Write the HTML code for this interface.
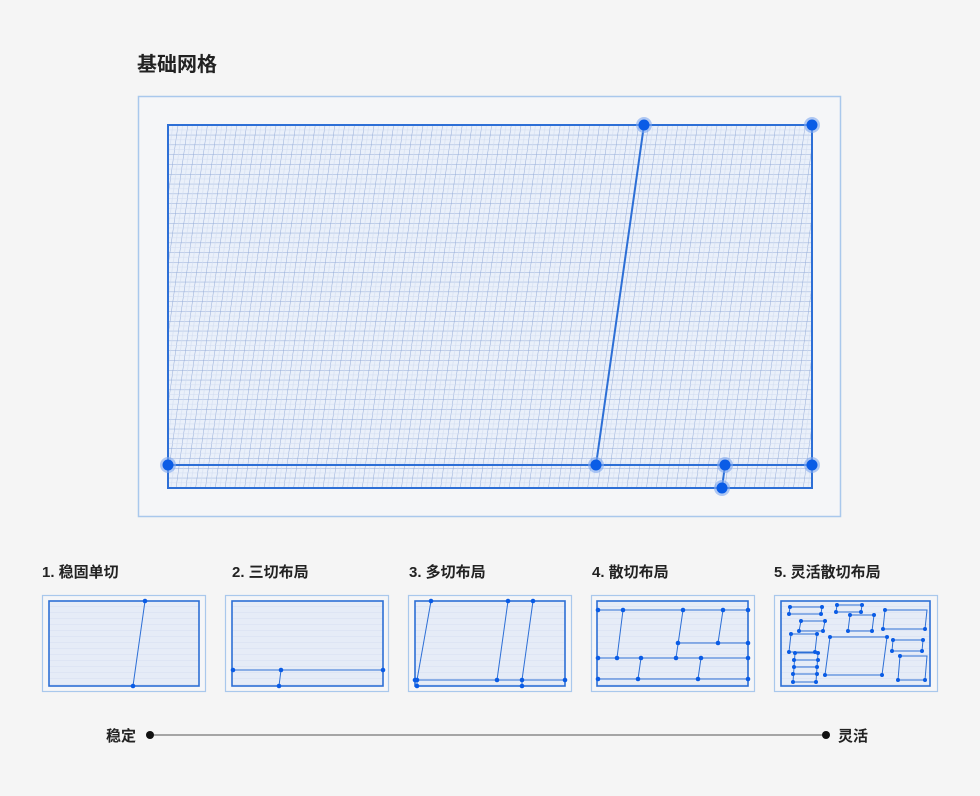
<!DOCTYPE html><html><head><meta charset="utf-8"><style>
html,body{margin:0;padding:0;background:#f5f5f5;}
body{width:980px;height:791px;overflow:hidden;font-family:"Liberation Sans","Noto Sans CJK SC",sans-serif;}
</style></head><body>
<svg width="980" height="791" viewBox="0 0 980 791" xmlns="http://www.w3.org/2000/svg" font-family="Liberation Sans, Noto Sans CJK SC, sans-serif">
<defs>
<pattern id="g" width="9.8" height="9.8" patternUnits="userSpaceOnUse" patternTransform="translate(168,125) skewX(-8)">
<rect width="9.8" height="9.8" fill="#eaf0fa"/>
<path d="M0 0H9.8M0 0V9.8" stroke="#93abd8" stroke-width="1" fill="none"/>
<path d="M4.9 0V9.8M0 4.9H9.8" stroke="#d0dbf0" stroke-width="0.5" fill="none"/>
</pattern>
<pattern id="t" width="6" height="6" patternUnits="userSpaceOnUse">
<rect width="6" height="6" fill="#e6ecf7"/>
<path d="M0 0H6" stroke="#cfd9ee" stroke-width="0.7"/>
</pattern>
</defs>
<text x="137" y="71" font-size="20" font-weight="bold" fill="#222">基础网格</text>
<rect x="138.5" y="96.5" width="702" height="420" fill="#f5f6f8" stroke="#a9c8ec" stroke-width="1.5"/>
<rect x="168" y="125" width="644" height="363" fill="url(#g)" stroke="#2d6fd6" stroke-width="2"/>
<g stroke="#2d6fd6" stroke-width="2" fill="none">
<line x1="644" y1="125" x2="596" y2="465"/>
<line x1="168" y1="465" x2="812" y2="465"/>
<line x1="725" y1="465" x2="722" y2="488"/>
</g>
<g fill="#0a5ce6">
<g fill="#7fa8f0" opacity="0.6"><circle cx="644" cy="125" r="8"/><circle cx="812" cy="125" r="8"/><circle cx="168" cy="465" r="8"/><circle cx="596" cy="465" r="8"/><circle cx="725" cy="465" r="8"/><circle cx="812" cy="465" r="8"/><circle cx="722" cy="488" r="8"/></g>
<circle cx="644" cy="125" r="5.5"/><circle cx="812" cy="125" r="5.5"/><circle cx="168" cy="465" r="5.5"/><circle cx="596" cy="465" r="5.5"/><circle cx="725" cy="465" r="5.5"/><circle cx="812" cy="465" r="5.5"/><circle cx="722" cy="488" r="5.5"/>
</g>
<g font-size="15" font-weight="bold" fill="#222">
<text x="42" y="577">1. 稳固单切</text>
<text x="232" y="577">2. 三切布局</text>
<text x="409" y="577">3. 多切布局</text>
<text x="592" y="577">4. 散切布局</text>
<text x="774" y="577">5. 灵活散切布局</text>
</g>
<g fill="#f5f6f8" stroke="#a9c8ec" stroke-width="1.2">
<rect x="42.5" y="595.5" width="163" height="96"/>
<rect x="225.5" y="595.5" width="163" height="96"/>
<rect x="408.5" y="595.5" width="163" height="96"/>
<rect x="591.5" y="595.5" width="163" height="96"/>
<rect x="774.5" y="595.5" width="163" height="96"/>
</g>
<g fill="url(#t)" stroke="#2d6fd6" stroke-width="1.6">
<rect x="49" y="601" width="150" height="85"/>
<rect x="232" y="601" width="151" height="85"/>
<rect x="415" y="601" width="150" height="85"/>
<rect x="597" y="601" width="151" height="85"/>
<rect x="781" y="601" width="149" height="85"/>
</g>
<g stroke="#2d6fd6" stroke-width="1" fill="none">
<line x1="145" y1="601" x2="133" y2="686"/>
<line x1="233" y1="670" x2="383" y2="670"/><line x1="281" y1="670" x2="279" y2="686"/>
<line x1="431" y1="601" x2="417" y2="680"/><line x1="508" y1="601" x2="497" y2="680"/><line x1="533" y1="601" x2="522" y2="680"/><line x1="415" y1="680" x2="565" y2="680"/><line x1="417" y1="680" x2="417" y2="686"/><line x1="522" y1="680" x2="522" y2="686"/>
<line x1="597" y1="610" x2="748" y2="610"/><line x1="678" y1="643" x2="748" y2="643"/><line x1="597" y1="658" x2="748" y2="658"/><line x1="597" y1="679" x2="748" y2="679"/>
<line x1="623" y1="610" x2="617" y2="658"/><line x1="683" y1="610" x2="676" y2="658"/><line x1="641" y1="658" x2="638" y2="679"/><line x1="701" y1="658" x2="698" y2="679"/><line x1="723" y1="610" x2="718" y2="643"/>
<polygon points="790,607 822,607 821,614 789,614"/>
<polygon points="837,605 862,605 861,612 836,612"/>
<polygon points="850,615 874,615 872,631 848,631"/>
<polygon points="885,610 927,610 925,629 883,629"/>
<polygon points="801,621 825,621 823,631 799,631"/>
<polygon points="791,634 817,634 815,652 789,652"/>
<polygon points="830,637 887,637 882,675 825,675"/>
<polygon points="893,640 923,640 922,651 892,651"/>
<polygon points="900,656 927,656 925,680 898,680"/>
<polygon points="795,653 818,653 816,682 793,682"/>
<line x1="794" y1="660" x2="818" y2="660"/><line x1="794" y1="667" x2="817" y2="667"/><line x1="793" y1="674" x2="817" y2="674"/>
</g>
<g fill="#0a5ce6">
<circle cx="145" cy="601" r="2.3"/><circle cx="133" cy="686" r="2.3"/>
<circle cx="233" cy="670" r="2.3"/><circle cx="281" cy="670" r="2.3"/><circle cx="383" cy="670" r="2.3"/><circle cx="279" cy="686" r="2.3"/>
<circle cx="431" cy="601" r="2.3"/><circle cx="508" cy="601" r="2.3"/><circle cx="533" cy="601" r="2.3"/><circle cx="415" cy="680" r="2.3"/><circle cx="417" cy="680" r="2.3"/><circle cx="497" cy="680" r="2.3"/><circle cx="522" cy="680" r="2.3"/><circle cx="565" cy="680" r="2.3"/><circle cx="417" cy="686" r="2.3"/><circle cx="522" cy="686" r="2.3"/>
<circle cx="598" cy="610" r="2.3"/><circle cx="623" cy="610" r="2.3"/><circle cx="683" cy="610" r="2.3"/><circle cx="723" cy="610" r="2.3"/><circle cx="748" cy="610" r="2.3"/>
<circle cx="678" cy="643" r="2.3"/><circle cx="718" cy="643" r="2.3"/><circle cx="748" cy="643" r="2.3"/>
<circle cx="598" cy="658" r="2.3"/><circle cx="617" cy="658" r="2.3"/><circle cx="641" cy="658" r="2.3"/><circle cx="676" cy="658" r="2.3"/><circle cx="701" cy="658" r="2.3"/><circle cx="748" cy="658" r="2.3"/>
<circle cx="598" cy="679" r="2.3"/><circle cx="638" cy="679" r="2.3"/><circle cx="698" cy="679" r="2.3"/><circle cx="748" cy="679" r="2.3"/>
<g>
<circle cx="790" cy="607" r="2"/><circle cx="822" cy="607" r="2"/><circle cx="789" cy="614" r="2"/><circle cx="821" cy="614" r="2"/>
<circle cx="837" cy="605" r="2"/><circle cx="862" cy="605" r="2"/><circle cx="836" cy="612" r="2"/><circle cx="861" cy="612" r="2"/>
<circle cx="850" cy="615" r="2"/><circle cx="874" cy="615" r="2"/><circle cx="848" cy="631" r="2"/><circle cx="872" cy="631" r="2"/>
<circle cx="885" cy="610" r="2"/><circle cx="883" cy="629" r="2"/><circle cx="925" cy="629" r="2"/>
<circle cx="801" cy="621" r="2"/><circle cx="825" cy="621" r="2"/><circle cx="799" cy="631" r="2"/><circle cx="823" cy="631" r="2"/>
<circle cx="791" cy="634" r="2"/><circle cx="817" cy="634" r="2"/><circle cx="789" cy="652" r="2"/><circle cx="815" cy="652" r="2"/>
<circle cx="830" cy="637" r="2"/><circle cx="887" cy="637" r="2"/><circle cx="825" cy="675" r="2"/><circle cx="882" cy="675" r="2"/>
<circle cx="893" cy="640" r="2"/><circle cx="923" cy="640" r="2"/><circle cx="892" cy="651" r="2"/><circle cx="922" cy="651" r="2"/>
<circle cx="900" cy="656" r="2"/><circle cx="898" cy="680" r="2"/><circle cx="925" cy="680" r="2"/>
<circle cx="795" cy="653" r="2"/><circle cx="818" cy="653" r="2"/><circle cx="794" cy="660" r="2"/><circle cx="818" cy="660" r="2"/><circle cx="794" cy="667" r="2"/><circle cx="817" cy="667" r="2"/><circle cx="793" cy="674" r="2"/><circle cx="817" cy="674" r="2"/><circle cx="793" cy="682" r="2"/><circle cx="816" cy="682" r="2"/>
</g>
</g>
<text x="106" y="741" font-size="15" font-weight="bold" fill="#222">稳定</text>
<line x1="150" y1="735" x2="826" y2="735" stroke="#555" stroke-width="1"/>
<circle cx="150" cy="735" r="4" fill="#111"/><circle cx="826" cy="735" r="4" fill="#111"/>
<text x="838" y="741" font-size="15" font-weight="bold" fill="#222">灵活</text>
</svg>
</body></html>
